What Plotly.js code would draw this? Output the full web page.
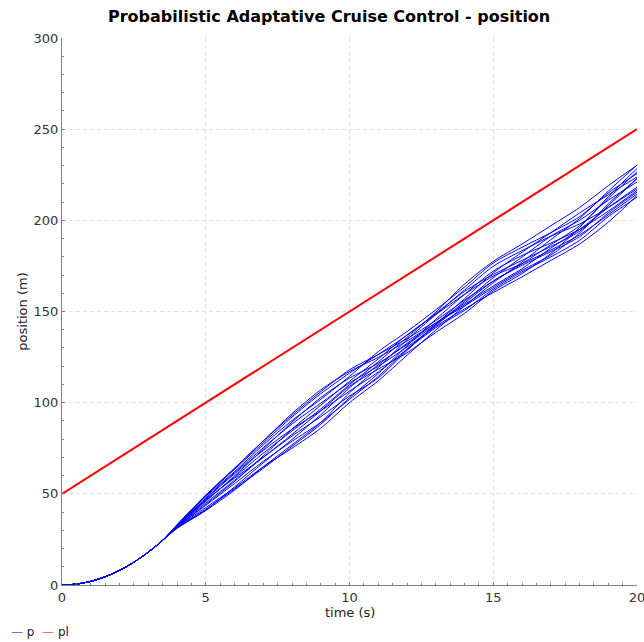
<!DOCTYPE html>
<html>
<head>
<meta charset="utf-8">
<script src="https://cdn.plot.ly/plotly-3.0.1.min.js"></script>
<style>
  html, body { margin: 0; padding: 0; background: #ffffff; }
  #chart { width: 644px; height: 642px; }
</style>
</head>
<body>
<div id="chart"></div>
<script>
// Shared start of every run: follower accelerating from rest (t = 0 .. 3.5 s)
const tStart = [0, 0.5, 1, 1.5, 2, 2.5, 3, 3.5];
const pStart = [0, 0.5, 2, 4.5, 8, 12.5, 18, 24.5];

// Sample times after the runs separate (t = 4 .. 20 s)
const tRun = [4, 5, 6, 7, 8, 9, 10, 11, 12, 13, 14, 15, 16, 17, 18, 19, 20];

// Follower position p (m) for each simulated run
const run01 = [33.0, 49.3, 64.0, 79.0, 94.0, 107.0, 117.1, 124.8, 133.8, 143.7, 153.8, 164.0, 173.5, 184.7, 195.0, 207.0, 218.2];
const run02 = [33.0, 48.8, 63.4, 77.9, 92.1, 104.9, 116.2, 126.4, 137.0, 148.9, 161.0, 170.3, 178.0, 185.6, 194.0, 208.0, 222.9];
const run03 = [32.8, 48.4, 62.2, 76.8, 90.2, 101.8, 114.4, 128.0, 139.0, 150.9, 163.4, 176.6, 185.2, 193.2, 202.0, 215.0, 225.6];
const run04 = [32.6, 47.6, 61.6, 75.3, 88.3, 99.7, 110.8, 120.0, 130.5, 141.8, 151.4, 160.4, 169.0, 178.0, 187.0, 199.0, 213.6];
const run05 = [32.4, 46.3, 59.2, 72.3, 84.5, 96.5, 109.9, 122.4, 135.8, 149.6, 165.0, 177.5, 187.0, 197.0, 207.0, 219.0, 230.2];
const run06 = [32.2, 45.9, 59.8, 74.5, 89.3, 102.8, 113.5, 121.6, 131.9, 143.0, 155.4, 168.5, 179.8, 191.3, 200.0, 211.0, 221.0];
const run07 = [32.0, 45.0, 57.4, 70.0, 81.7, 92.3, 103.6, 113.6, 128.6, 143.1, 157.0, 171.2, 182.5, 193.2, 204.0, 214.0, 223.8];
const run08 = [31.8, 43.7, 55.6, 67.8, 78.8, 89.2, 101.8, 114.4, 129.3, 142.4, 154.6, 166.7, 175.3, 182.8, 191.0, 204.0, 215.5];
const run09 = [31.6, 42.5, 53.2, 64.8, 75.0, 86.0, 100.0, 112.0, 126.0, 139.8, 153.0, 165.8, 177.1, 189.4, 201.0, 216.0, 230.3];
const run10 = [31.4, 41.6, 52.6, 64.0, 76.0, 88.1, 102.7, 116.0, 131.2, 145.7, 159.4, 172.1, 180.7, 187.5, 195.0, 205.0, 216.4];
const run11 = [31.0, 40.8, 52.0, 64.8, 76.9, 89.1, 105.4, 119.2, 134.5, 148.3, 161.8, 174.8, 183.4, 191.3, 198.0, 207.0, 217.3];
const run12 = [32.5, 47.1, 61.0, 73.8, 85.5, 95.5, 106.3, 116.8, 129.3, 141.1, 150.6, 162.2, 171.7, 179.9, 189.0, 202.0, 212.7];
const run13 = [32.9, 49.3, 64.0, 79.0, 93.1, 106.0, 118.0, 126.4, 135.1, 145.0, 156.2, 166.7, 176.2, 186.6, 197.0, 212.0, 226.6];
const run14 = [31.9, 44.2, 56.8, 70.8, 85.5, 98.6, 111.7, 124.0, 137.1, 148.3, 159.4, 169.4, 176.2, 183.7, 192.0, 203.0, 214.5];
const run15 = [31.2, 41.2, 53.8, 67.0, 79.8, 93.4, 108.1, 120.8, 132.5, 143.7, 153.0, 163.1, 172.6, 180.9, 193.0, 209.0, 222.9];
const run16 = [32.3, 46.7, 58.6, 70.0, 82.6, 95.5, 109.0, 118.4, 127.3, 138.5, 149.0, 161.3, 170.8, 181.8, 196.0, 213.0, 228.4];

const runs = [run01, run02, run03, run04, run05, run06, run07, run08,
              run09, run10, run11, run12, run13, run14, run15, run16];

// Leader position pl (m)
const tLead = [0, 20];
const plLead = [50, 250];

// Series names and colours
const seriesNames = ['p', 'pl'];
const seriesColors = ['#0000ff', '#ff0000'];
const legendColors = ['#6e6eff', '#ff6e6e'];

const FONT = 'DejaVu Sans, Verdana, sans-serif';

const traces = runs.map((vals, i) => ({
  type: 'scatter',
  mode: 'lines',
  name: seriesNames[0],
  legendgroup: seriesNames[0],
  showlegend: false,
  x: tStart.concat(tRun),
  y: pStart.concat(vals),
  line: { color: seriesColors[0], width: 1, shape: 'spline', smoothing: 0.8 },
  hoverinfo: 'x+y'
}));

traces.push({
  type: 'scatter',
  mode: 'lines',
  name: seriesNames[1],
  showlegend: false,
  x: tLead,
  y: plLead,
  line: { color: seriesColors[1], width: 2 }
});

// Compact legend strip under the plot: a short coloured dash before each name
const legendText = seriesNames
  .map((n, i) => '<span style="color:' + legendColors[i] + '">—</span> ' + n)
  .join('  ');

const axisCommon = {
  showline: true,
  linecolor: '#808080',
  linewidth: 1,
  mirror: false,
  ticks: 'inside',
  ticklen: 3,
  tickcolor: '#808080',
  showgrid: true,
  gridcolor: '#e2e2e2',
  gridwidth: 1,
  griddash: '4px,3px',
  zeroline: false,
  tickfont: { family: FONT, size: 13, color: '#333333' }
};

const layout = {
  width: 644,
  height: 642,
  paper_bgcolor: '#ffffff',
  plot_bgcolor: '#ffffff',
  margin: { l: 62, r: 7, t: 38, b: 57 },
  font: { family: FONT, color: '#222222' },
  showlegend: false,
  title: {
    text: '<b>Probabilistic Adaptative Cruise Control - position</b>',
    font: { family: FONT, size: 16, color: '#000000' },
    x: 0.511, xref: 'container', xanchor: 'center',
    y: 0.975, yref: 'container', yanchor: 'middle'
  },
  xaxis: Object.assign({}, axisCommon, {
    range: [0, 20],
    dtick: 5,
    tick0: 0,
    automargin: false,
    ticklabeloverflow: 'allow',
    minor: { dtick: 0.5, ticks: 'inside', ticklen: 2, tickcolor: '#808080', showgrid: false }
  }),
  yaxis: Object.assign({}, axisCommon, {
    range: [0, 300],
    dtick: 50,
    tick0: 0,
    automargin: true,
    minor: { dtick: 10, ticks: 'inside', ticklen: 2, tickcolor: '#808080', showgrid: false },
    title: { text: 'position (m)', font: { family: FONT, size: 13, color: '#222222' }, standoff: 3 }
  }),
  annotations: [
    {
      text: 'time (s)',
      xref: 'paper', yref: 'paper',
      x: 0.5, y: -0.0494, xanchor: 'center', yanchor: 'middle',
      showarrow: false,
      font: { family: FONT, size: 13, color: '#222222' }
    },
    {
      text: legendText,
      xref: 'paper', yref: 'paper',
      x: -0.092, y: -0.0859, xanchor: 'left', yanchor: 'middle',
      showarrow: false,
      font: { family: FONT, size: 12, color: '#222222' }
    }
  ]
};

Plotly.newPlot('chart', traces, layout, { displayModeBar: false, staticPlot: true });
</script>
</body>
</html>
